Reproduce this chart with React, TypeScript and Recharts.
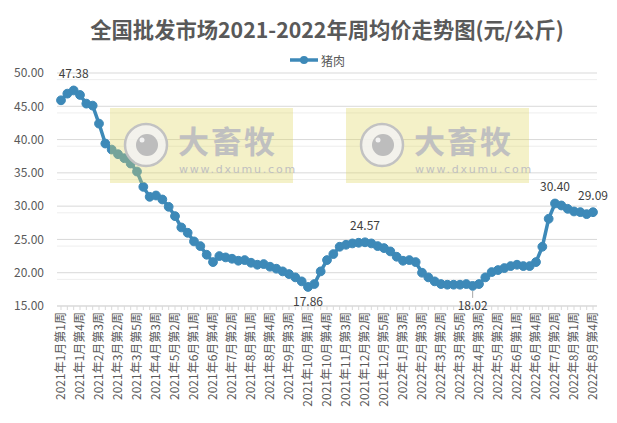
import React from 'react';
import { LineChart, Line, XAxis, YAxis, CartesianGrid, Legend } from 'recharts';

const weeks: string[] = [
  '2021年1月第1周', '2021年1月第2周', '2021年1月第3周', '2021年1月第4周',
  '2021年2月第1周', '2021年2月第2周', '2021年2月第3周', '2021年2月第4周',
  '2021年3月第1周', '2021年3月第2周', '2021年3月第3周', '2021年3月第4周', '2021年3月第5周',
  '2021年4月第1周', '2021年4月第2周', '2021年4月第3周', '2021年4月第4周',
  '2021年5月第1周', '2021年5月第2周', '2021年5月第3周', '2021年5月第4周',
  '2021年6月第1周', '2021年6月第2周', '2021年6月第3周', '2021年6月第4周', '2021年6月第5周',
  '2021年7月第1周', '2021年7月第2周', '2021年7月第3周', '2021年7月第4周',
  '2021年8月第1周', '2021年8月第2周', '2021年8月第3周', '2021年8月第4周',
  '2021年9月第1周', '2021年9月第2周', '2021年9月第3周', '2021年9月第4周', '2021年9月第5周',
  '2021年10月第1周', '2021年10月第2周', '2021年10月第3周', '2021年10月第4周',
  '2021年11月第1周', '2021年11月第2周', '2021年11月第3周', '2021年11月第4周',
  '2021年12月第1周', '2021年12月第2周', '2021年12月第3周', '2021年12月第4周', '2021年12月第5周',
  '2022年1月第1周', '2022年1月第2周', '2022年1月第3周', '2022年1月第4周',
  '2022年2月第2周', '2022年2月第3周', '2022年2月第4周',
  '2022年3月第1周', '2022年3月第2周', '2022年3月第3周', '2022年3月第4周', '2022年3月第5周',
  '2022年4月第1周', '2022年4月第2周', '2022年4月第3周', '2022年4月第4周',
  '2022年5月第1周', '2022年5月第2周', '2022年5月第3周', '2022年5月第4周',
  '2022年6月第1周', '2022年6月第2周', '2022年6月第3周', '2022年6月第4周', '2022年6月第5周',
  '2022年7月第1周', '2022年7月第2周', '2022年7月第3周', '2022年7月第4周',
  '2022年8月第1周', '2022年8月第2周', '2022年8月第3周', '2022年8月第4周',
];

const pork: number[] = [
  45.9, 46.9, 47.38, 46.7, 45.4, 45.1, 42.4, 39.4, 38.5, 37.8,
  37.2, 36.4, 35.2, 32.9, 31.4, 31.6, 31.0, 29.9, 28.5, 26.8,
  26.0, 24.7, 24.0, 22.7, 21.6, 22.5, 22.3, 22.1, 21.8, 21.9,
  21.5, 21.2, 21.3, 20.9, 20.6, 20.2, 19.8, 19.3, 18.7, 17.86,
  18.3, 20.2, 21.9, 22.8, 23.9, 24.2, 24.4, 24.5, 24.57, 24.4,
  24.0, 23.7, 23.2, 22.4, 21.8, 21.9, 21.6, 20.0, 19.3, 18.7,
  18.3, 18.2, 18.2, 18.2, 18.3, 18.02, 18.3, 19.3, 20.1, 20.4,
  20.7, 21.0, 21.2, 21.0, 21.0, 21.6, 23.9, 28.1, 30.4, 30.1,
  29.6, 29.2, 29.1, 28.8, 29.09,
];

const yMajor: number[] = [15, 20, 25, 30, 35, 40, 45, 50];
const yMinor: number[] = [
  16, 17, 18, 19, 21, 22, 23, 24, 26, 27, 28, 29, 31, 32, 33, 34,
  36, 37, 38, 39, 41, 42, 43, 44, 46, 47, 48, 49,
];

const labelAbove: number[] = [2, 48, 78, 84];
const labelBelow: number[] = [39, 65];
const labelLeader: number[] = [65];

const data = weeks.map((w, i) => ({ week: w, pork: pork[i] }));

const FONT = "'Noto Sans CJK SC', 'Noto Sans', sans-serif";
const LINE_COLOR = '#3d89b8';
const TEXT_COLOR = '#595959';

const XTick = (props: any) => {
  const { x, y, payload } = props;
  const idx = weeks.indexOf(payload.value);
  if (idx % 3 !== 0) return null;
  return (
    <g transform={`translate(${x},${y})`}>
      <text
        transform="rotate(-90)"
        textAnchor="end"
        dy="0.35em"
        fontSize={12}
        fill={TEXT_COLOR}
        fontFamily={FONT}
      >
        {payload.value}
      </text>
    </g>
  );
};

const renderLabel = (props: any) => {
  const { x, y, index, value } = props;
  const above = labelAbove.includes(index);
  const below = labelBelow.includes(index);
  if (!above && !below) return null;
  const text = Number(value).toFixed(2);
  const common = {
    textAnchor: 'middle' as const,
    dominantBaseline: 'central' as const,
    fontSize: 12,
    fill: '#404040',
    fontFamily: FONT,
  };
  if (above) {
    return (
      <text key={`l${index}`} x={x} y={y - 18} {...common}>
        {text}
      </text>
    );
  }
  const lead = labelLeader.includes(index);
  return (
    <g key={`l${index}`}>
      {lead && <line x1={x} x2={x} y1={y + 5} y2={y + 12} stroke="#a6a6a6" strokeWidth={1} />}
      <text x={x} y={y + (lead ? 19 : 14)} {...common}>
        {text}
      </text>
    </g>
  );
};

const LegendContent = () => (
  <svg width={617} height={20} style={{ display: 'block' }}>
    <line x1={290} x2={318} y1={10} y2={10} stroke={LINE_COLOR} strokeWidth={3.5} />
    <circle cx={304} cy={10} r={4} fill={LINE_COLOR} />
    <text x={321} y={10} dominantBaseline="central" fontSize={12} fill={TEXT_COLOR} fontFamily={FONT}>
      猪肉
    </text>
  </svg>
);

const Watermark = ({ x, y }: { x: number; y: number }) => (
  <g>
    <rect x={x} y={y} width={183} height={75} fill="#e0d860" opacity={0.35} />
    <circle cx={x + 36} cy={y + 37} r={21} fill="#f2f2f2" fillOpacity={0.85} stroke="#c2c2c2" strokeWidth={2.5} />
    <circle cx={x + 37} cy={y + 37} r={11} fill="#bdbdbd" />
    <circle cx={x + 32} cy={y + 32} r={2.5} fill="#f2f2f2" />
    <text
      x={x + 68}
      y={y + 31}
      dominantBaseline="central"
      fontSize={31}
      fontWeight={700}
      letterSpacing={2}
      fill="#c0c0c0"
      fontFamily={FONT}
    >
      大畜牧
    </text>
    <text
      x={x + 69}
      y={y + 61}
      dominantBaseline="central"
      fontSize={11}
      letterSpacing={1.8}
      fill="#c0c0c0"
      fontFamily="'DejaVu Sans', sans-serif"
    >
      www.dxumu.com
    </text>
  </g>
);

export default function App() {
  return (
    <div style={{ position: 'absolute', left: 0, top: 0, width: 617, height: 423, background: '#fff', fontFamily: FONT }}>
      <LineChart
        width={617}
        height={423}
        data={data}
        margin={{ top: 73, right: 20, bottom: 0, left: 0 }}
      >
        <CartesianGrid vertical={false} horizontalValues={yMinor} stroke="#eeeeee" />
        <CartesianGrid vertical={false} horizontalValues={yMajor} stroke="#d9d9d9" />
        <XAxis
          dataKey="week"
          interval={0}
          height={117}
          tick={<XTick />}
          tickSize={4}
          tickMargin={2}
          tickLine={{ stroke: '#d9d9d9' }}
          axisLine={{ stroke: '#d9d9d9' }}
          padding={{ left: 4, right: 4 }}
        />
        <YAxis
          domain={[15, 50]}
          ticks={yMajor}
          width={57}
          tickLine={false}
          tickSize={0}
          tickMargin={13}
          axisLine={false}
          tickFormatter={(v: number) => v.toFixed(2)}
          tick={{ fontSize: 12, fill: TEXT_COLOR, fontFamily: FONT }}
        />
        <Legend
          verticalAlign="middle"
          align="center"
          layout="horizontal"
          wrapperStyle={{ position: 'absolute', top: 50, left: 0, width: 617, height: 20 }}
          content={<LegendContent />}
        />
        <Line
          type="linear"
          dataKey="pork"
          name="猪肉"
          stroke={LINE_COLOR}
          strokeWidth={3.5}
          dot={{ r: 4.4, fill: LINE_COLOR, stroke: LINE_COLOR, strokeWidth: 1 }}
          activeDot={false}
          isAnimationActive={false}
          label={renderLabel}
        />
      </LineChart>
      <svg
        width={617}
        height={423}
        style={{ position: 'absolute', left: 0, top: 0, pointerEvents: 'none' }}
      >
        <text
          x={327}
          y={28}
          textAnchor="middle"
          dominantBaseline="central"
          fontSize={21.3}
          fontWeight={700}
          fill={TEXT_COLOR}
          fontFamily={FONT}
        >
          全国批发市场2021-2022年周均价走势图(元/公斤)
        </text>
        <Watermark x={110} y={108} />
        <Watermark x={346} y={108} />
      </svg>
    </div>
  );
}
